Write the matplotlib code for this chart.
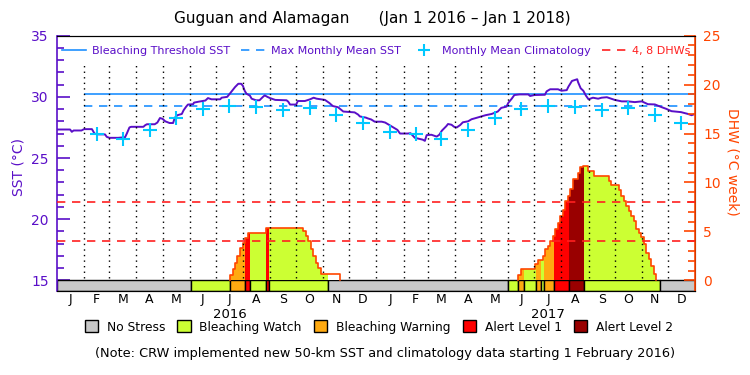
import numpy as np
import pandas as pd
import matplotlib
matplotlib.use('Agg')
import matplotlib.pyplot as plt
from matplotlib.lines import Line2D
from matplotlib.patches import Patch

# days counted from 1 Jan 2016
sst_days = [0, 15, 17, 19, 28, 31, 40, 43, 46, 55, 57, 60, 70, 78, 80, 83, 85, 99, 101, 103,
            112, 115, 118, 121, 124, 129, 133, 135, 138, 143, 145, 148, 150, 156, 157, 162,
            170, 173, 177, 187, 188.6, 195, 198, 204, 207.7, 211, 213, 215, 217, 221, 223,
            228, 232, 236, 238, 241, 244, 250, 263, 265, 267, 274, 276, 284, 290, 294, 297.5,
            307, 312, 316, 322, 328, 341, 345, 347, 354, 356, 360, 364, 372, 376, 383, 390,
            393, 402, 405, 410, 419, 421.5, 423.5, 429, 435, 438, 441, 446, 448, 452, 455,
            458, 462, 465, 471, 475, 479, 486, 491, 498, 505, 509, 515, 517, 521, 524, 530,
            540, 542, 547, 559, 561, 565, 574, 578, 584, 586, 590, 596, 597, 600, 603, 606,
            609, 614, 620, 624, 630, 639, 647, 654, 662, 670, 677, 685, 693, 698, 704, 715,
            723, 727, 731]
sst_vals = [27.33, 27.33, 27.14, 27.25, 27.25, 27.36, 27.36, 27.0, 26.93, 26.93, 26.73, 26.65,
            26.65, 26.7, 27.0, 27.5, 27.55, 27.55, 27.68, 27.76, 27.76, 27.9, 28.27, 28.2, 28.0,
            27.86, 27.86, 28.3, 28.5, 28.6, 28.9, 29.2, 29.37, 29.4, 29.53, 29.6, 29.7, 29.9,
            29.8, 29.8, 29.93, 30.0, 30.26, 30.8, 31.07, 31.07, 30.9, 30.5, 30.26, 30.1, 29.85,
            29.72, 29.72, 30.0, 30.12, 30.0, 29.9, 29.75, 29.72, 29.6, 29.37, 29.37, 29.66,
            29.66, 29.8, 29.93, 29.85, 29.75, 29.5, 29.25, 29.15, 28.8, 28.73, 28.55, 28.4,
            28.3, 28.24, 28.15, 27.97, 27.97, 27.9, 27.6, 27.3, 27.0, 27.0, 27.03, 26.65, 26.5,
            26.4, 26.87, 26.9, 26.75, 26.9, 27.24, 27.6, 27.78, 27.72, 27.55, 27.5, 27.7, 27.92,
            28.0, 28.17, 28.25, 28.4, 28.5, 28.6, 28.8, 29.1, 29.2, 29.5, 29.85, 30.15, 30.2,
            30.2, 30.07, 30.15, 30.17, 30.45, 30.62, 30.62, 30.5, 30.55, 30.84, 31.3, 31.44,
            31.2, 30.7, 30.5, 30.1, 29.8, 29.93, 29.85, 29.93, 29.97, 29.75, 29.63, 29.63,
            29.57, 29.63, 29.4, 29.38, 29.15, 29.02, 28.83, 28.75, 28.6, 28.5, 28.6]

clim_vals = [27.12, 27.0, 26.56, 27.33, 28.27, 28.97, 29.27, 29.17, 28.93, 29.1, 28.55, 27.9]
mmm = 29.27
bleach_threshold = 30.27
clim_start = '2016-02-01'

dhw16_days = [198.2, 201.2, 203.9, 206.6, 209.6, 212.7, 215.3, 218.4, 239.4, 282, 285.2,
              287.9, 291, 293.6, 296.7, 299.3, 302.4, 324.2]
dhw16_vals = [0.54, 1.19, 1.8, 2.47, 3.3, 3.83, 4.34, 4.85, 5.36, 5.0, 4.5, 4.0, 3.15, 2.47,
              1.8, 1.29, 0.6, 0]
dhw17_days = [528.1, 531.5, 547.9, 551, 556.3, 559.4, 562, 565.1, 567.8, 570.8, 573.9, 576.6,
              579.6, 582.3, 585, 588, 590.7, 596.8, 599.5, 602.2, 607.9, 614.8, 632, 635,
              643.5, 646.5, 649.2, 652.3, 654.9, 657.6, 660.6, 663.3, 666.3, 669, 672, 674.8,
              677.7, 680.4, 683.5, 686.3]
dhw17_vals = [0.54, 1.12, 1.63, 2.03, 2.47, 3.15, 3.49, 4.0, 4.5, 5.25, 5.86, 6.54, 7.2, 8.06,
              8.57, 9.32, 10.33, 11.0, 11.6, 11.7, 11.2, 10.67, 10.2, 9.7, 9.18, 8.57, 8.06,
              7.55, 7.04, 6.54, 6.03, 5.25, 4.85, 4.44, 3.66, 2.81, 2.13, 1.45, 0.61, 0]

stress_start = [0, 153.5, 198.2, 215.3, 221.5, 239.4, 242.5, 310.8, 516.2, 528.1, 534.5,
                548.6, 554.7, 558.5, 569.9, 587.1, 604.3, 691.2]
stress_end = stress_start[1:] + [731]
stress_level = [0, 1, 2, 3, 1, 3, 1, 0, 1, 2, 1, 2, 1, 2, 3, 4, 1, 0]

level_names = ['No Stress', 'Bleaching Watch', 'Bleaching Warning', 'Alert Level 1', 'Alert Level 2']
level_colors = ['#c8c8c8', '#ccff33', '#ffaa11', '#ff0000', '#990000']

month_letters = list('JFMAMJJASOND') * 2
years = ['2016', '2017']

purple = '#5a0fc8'
orange = '#ff4500'
blue = '#1e90ff'
cyan = '#00c8ff'

sst_lo, sst_hi = 14.15, 35
t0 = pd.Timestamp('2016-01-01')
month_starts = pd.date_range('2016-01-01', '2018-01-01', freq='MS')
mstart = np.array([(d - t0).days for d in month_starts], dtype=float)
mmid = (mstart[:-1] + mstart[1:]) / 2


def level_at(day):
    for s, e, lv in zip(stress_start, stress_end, stress_level):
        if s <= day < e:
            return lv
    return 0


def fill_dhw(ax, days, vals):
    cuts = sorted(set(days) | set(stress_start))
    for i in range(len(days) - 1):
        a, b, v = days[i], days[i + 1], vals[i]
        edges = [a] + [c for c in cuts if a < c < b] + [b]
        for l, r in zip(edges[:-1], edges[1:]):
            lv = level_at((l + r) / 2)
            col = 'white' if lv == 0 else level_colors[lv]
            ax.bar(l, v, width=r - l, align='edge', color=col, linewidth=0, zorder=2)
    ax.plot([days[0]] + list(days), [0] + list(vals), drawstyle='steps-post',
            color=orange, lw=1.2, zorder=3)


fig = plt.figure(figsize=(7.5, 3.75), dpi=100)
ax = fig.add_axes([0.076, 0.2248, 0.8507, 0.68])
ax2 = ax.twinx()

# stress bar along the bottom
for s, e, lv in zip(stress_start, stress_end, stress_level):
    ax.broken_barh([(s, e - s)], (sst_lo, 15 - sst_lo), facecolors=level_colors[lv],
                   edgecolor='black', linewidth=1, zorder=2)

# SST, thresholds and climatology
ax.plot(sst_days, sst_vals, color=purple, lw=1.4, zorder=4)
c0 = (pd.Timestamp(clim_start) - t0).days
ax.hlines(bleach_threshold, c0, 731, color=blue, lw=1.2, zorder=3)
ax.hlines(mmm, c0, 731, color=blue, lw=1.2, linestyles=(0, (5, 4)), zorder=3)
cross_x = [m for m in mmid if m > c0]
cross_y = [clim_vals[i % 12] for i, m in enumerate(mmid) if m > c0]
ax.plot(cross_x, cross_y, '+', color=cyan, ms=10, mew=1.5, zorder=4)

ax.set_xlim(0, 731)
ax.set_ylim(sst_lo, sst_hi)
ax2.set_ylim((sst_lo - 15) * 1.25, (sst_hi - 15) * 1.25)

# DHW polygons
fill_dhw(ax2, dhw16_days, dhw16_vals)
fill_dhw(ax2, dhw17_days, dhw17_vals)
ax2.axhline(4, color='#ff2020', lw=1.2, ls=(0, (5, 4)), zorder=5)
ax2.axhline(8, color='#ff2020', lw=1.2, ls=(0, (5, 4)), zorder=5)
ax2.vlines(mstart[1:-1], 0.25, 22.3, color='black', lw=1, linestyles=(0, (1, 3)), zorder=6)

# axes styling
ax.set_yticks([15, 20, 25, 30, 35])
ax.set_yticks(range(15, 36), minor=True)
ax.tick_params(axis='y', which='major', direction='in', length=9, width=1.2,
               colors=purple, labelsize=10, pad=6)
ax.tick_params(axis='y', which='minor', direction='in', length=5, width=1.2, colors=purple)
ax.spines['left'].set_color(purple)
ax.spines['left'].set_linewidth(1.2)
ax2.set_yticks([0, 5, 10, 15, 20, 25])
ax2.set_yticks(range(0, 26), minor=True)
ax2.tick_params(axis='y', which='major', direction='in', length=8, width=1.2,
                colors=orange, labelsize=10, pad=6)
ax2.tick_params(axis='y', which='minor', direction='in', length=5, width=1.2, colors=orange)
ax2.spines['right'].set_color(orange)
ax2.spines['right'].set_linewidth(1.2)
ax2.spines['left'].set_visible(False)

ax.set_xticks(mmid)
ax.set_xticklabels(month_letters, fontsize=9)
ax.tick_params(axis='x', length=0, pad=1.5)
for yr, i in zip(years, [6, 18]):
    ax.text(mmid[i], -0.093, yr, transform=ax.get_xaxis_transform(), ha='center',
            va='center', fontsize=9.5)

# top legend
handles = [Line2D([], [], color=blue, lw=1.2),
           Line2D([], [], color=blue, lw=1.2, ls=(0, (5, 4))),
           Line2D([], [], color=cyan, marker='+', ls='none', ms=9, mew=1.5),
           Line2D([], [], color='#ff2020', lw=1.2, ls=(0, (5, 4)))]
labels = ['Bleaching Threshold SST', 'Max Monthly Mean SST', 'Monthly Mean Climatology', '4, 8 DHWs']
leg = ax2.legend(handles, labels, loc='center', bbox_to_anchor=(0.5, 0.94), ncol=4,
                 frameon=False, fontsize=8, handlelength=2.2, handletextpad=0.5,
                 columnspacing=1.0, borderaxespad=0)
for t, c in zip(leg.get_texts(), [purple, purple, purple, '#ff2020']):
    t.set_color(c)

# bottom legend
patches = [Patch(facecolor=c, edgecolor='black', linewidth=1) for c in level_colors]
fig.legend(patches, level_names, loc='center', bbox_to_anchor=(0.505, 0.128), ncol=5,
           frameon=False, fontsize=8.8, handlelength=1.1, handleheight=1.1,
           handletextpad=0.7, columnspacing=1.0)

fig.text(0.496, 0.951, 'Guguan and Alamagan      (Jan 1 2016 \u2013 Jan 1 2018)',
         ha='center', va='center', fontsize=11)
fig.text(0.024, 0.555, 'SST (\u00b0C)', rotation=90, ha='center', va='center',
         color=purple, fontsize=10)
fig.text(0.977, 0.568, 'DHW (\u00b0C week)', rotation=-90, ha='center', va='center',
         color=orange, fontsize=10)
fig.text(0.513, 0.056, '(Note: CRW implemented new 50-km SST and climatology data starting 1 February 2016)',
         ha='center', va='center', fontsize=9.3)

fig.savefig('out.png', dpi=100)
plt.close(fig)
